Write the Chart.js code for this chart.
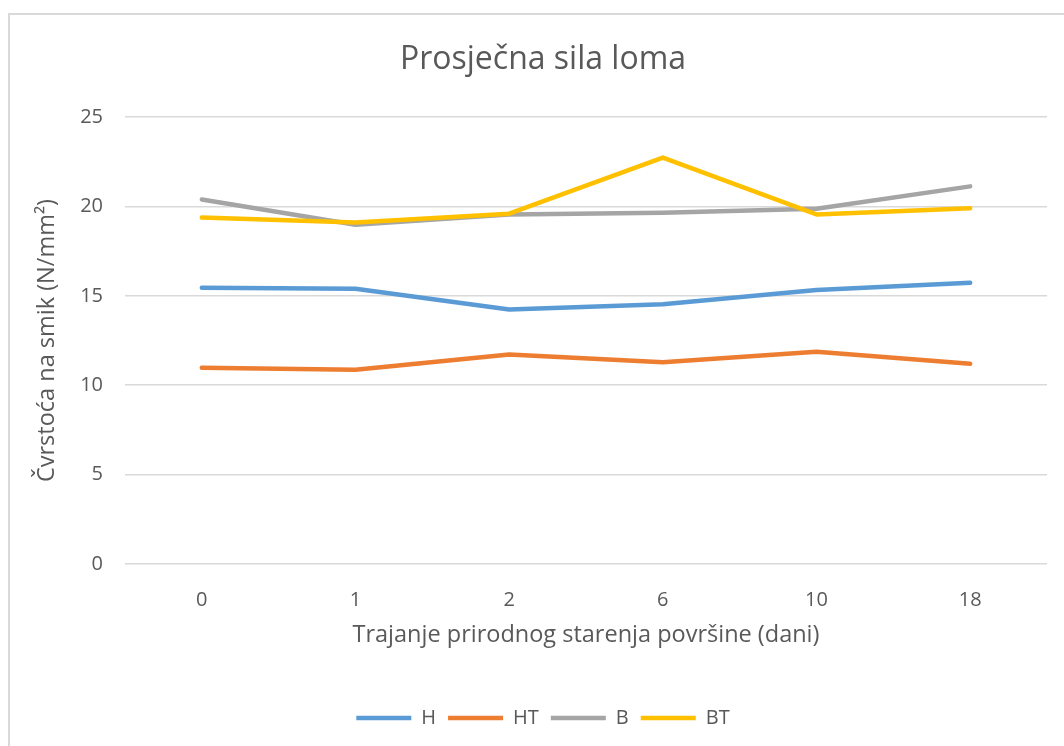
<!DOCTYPE html>
<html>
<head>
<meta charset="utf-8">
<script src="https://cdn.jsdelivr.net/npm/chart.js@4"></script>
<style>
  html, body { margin: 0; padding: 0; background: #fff; overflow: hidden; }
  #frame {
    position: absolute; left: 8px; top: 13px;
    width: 1100px; height: 800px;
    border: 2px solid #d9d9d9; box-sizing: border-box;
  }
  #wrap { position: absolute; left: 0; top: 0; width: 1064px; height: 746px; }
</style>
</head>
<body>
<div id="frame"></div>
<div id="wrap"><canvas id="silaChart"></canvas></div>
<script>
// Trajanje starenja (dani)
const days = ['0', '1', '2', '6', '10', '18'];

const seriesH  = [15.45, 15.39, 14.23, 14.53, 15.32, 15.73];
const seriesHT = [10.97, 10.86, 11.72, 11.29, 11.87, 11.20];
const seriesB  = [20.39, 18.97, 19.55, 19.64, 19.87, 21.12];
const seriesBT = [19.38, 19.10, 19.59, 22.73, 19.55, 19.90];

const yTicks = [0, 5, 10, 15, 20, 25];

const textColor = '#595959';
const fontFamily = '"Open Sans", "DejaVu Sans", sans-serif';

function line(label, data, color, order) {
  return {
    label: label,
    data: data,
    borderColor: color,
    backgroundColor: color,
    borderWidth: 4.5,
    borderCapStyle: 'round',
    borderJoinStyle: 'round',
    pointRadius: 0,
    pointHoverRadius: 0,
    tension: 0,
    fill: false,
    order: order
  };
}

const ctx = document.getElementById('silaChart').getContext('2d');
new Chart(ctx, {
  type: 'line',
  data: {
    labels: days,
    datasets: [
      line('H', seriesH, '#5B9BD5', 3),
      line('HT', seriesHT, '#ED7D31', 2),
      line('B', seriesB, '#A5A5A5', 1),
      line('BT', seriesBT, '#FFC000', 0)
    ]
  },
  options: {
    responsive: true,
    maintainAspectRatio: false,
    animation: false,
    layout: { padding: { top: 13, left: 39, right: 17, bottom: 8 } },
    plugins: {
      title: {
        display: true,
        text: 'Prosječna sila loma',
        color: textColor,
        font: { family: fontFamily, size: 32, weight: 'normal' },
        padding: { top: 27.8, bottom: 37.8 }
      },
      legend: {
        position: 'bottom',
        labels: {
          color: textColor,
          font: { family: fontFamily, size: 20 },
          usePointStyle: true,
          pointStyle: 'line',
          pointStyleWidth: 55,
          padding: 12,
          sort: (a, b) => a.datasetIndex - b.datasetIndex
        }
      },
      tooltip: { enabled: false }
    },
    scales: {
      x: {
        offset: true,
        grid: { display: false },
        border: { display: false },
        ticks: {
          color: textColor,
          font: { family: fontFamily, size: 20 },
          padding: 16
        },
        title: {
          display: true,
          text: 'Trajanje prirodnog starenja površine (dani)',
          color: textColor,
          font: { family: fontFamily, size: 23.5 },
          padding: { top: 0, bottom: 47 }
        },
        afterFit: function (scale) { scale.height = 132; }
      },
      y: {
        min: 0,
        max: 25,
        afterBuildTicks: function (scale) {
          scale.ticks = yTicks.map(v => ({ value: v }));
        },
        grid: { color: '#d9d9d9', lineWidth: 1.5, drawTicks: false },
        border: { display: false },
        ticks: {
          color: textColor,
          font: { family: fontFamily, size: 20 },
          padding: 22
        },
        title: {
          display: true,
          text: 'Čvrstoća na smik (N/mm²)',
          color: textColor,
          font: { family: fontFamily, size: 23.5 },
          padding: { top: -6, bottom: 0 }
        },
        afterFit: function (scale) { scale.width = 86; }
      }
    }
  }
});
</script>
</body>
</html>
